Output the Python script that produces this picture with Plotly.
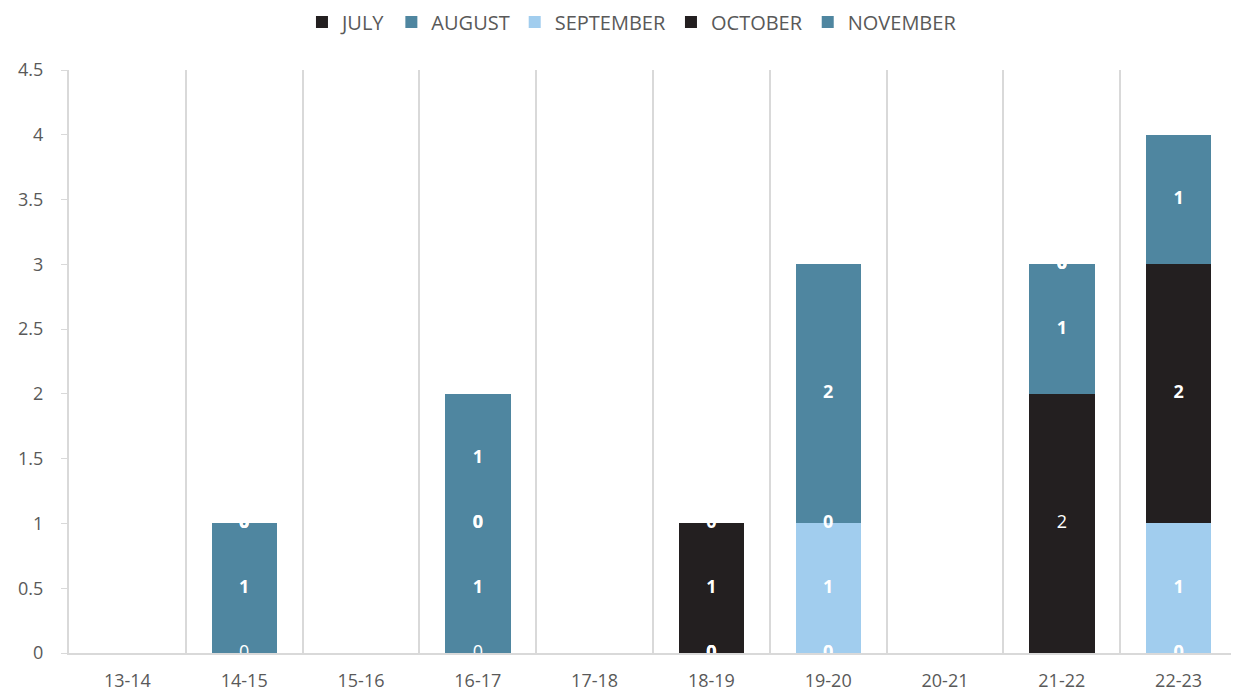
import numpy as np
import plotly.graph_objects as go

categories = ["13-14", "14-15", "15-16", "16-17", "17-18", "18-19", "19-20", "20-21", "21-22", "22-23"]
july      = [0, 0, 0, 0, 0, 0, 0, 0, 2, 0]
august    = [0, 1, 0, 1, 0, 0, 0, 0, 1, 0]
september = [0, 0, 0, 0, 0, 0, 1, 0, 0, 1]
october   = [0, 0, 0, 0, 0, 1, 0, 0, 0, 2]
november  = [0, 0, 0, 1, 0, 0, 2, 0, 0, 1]

series = [
    ("JULY", july, "#231F20", False),
    ("AUGUST", august, "#4F86A0", True),
    ("SEPTEMBER", september, "#A1CDEE", True),
    ("OCTOBER", october, "#231F20", True),
    ("NOVEMBER", november, "#4F86A0", True),
]

fig = go.Figure()
base = np.zeros(len(categories))
label_traces = []
for name, vals, color, bold in series:
    v = np.array(vals, dtype=float)
    fig.add_trace(go.Bar(
        x=categories, y=v, name=name,
        marker=dict(color=color, line=dict(width=0)),
        hoverinfo="skip",
    ))
    mid = base + v / 2
    txt = [f"<b>{int(x)}</b>" if bold else f"{int(x)}" for x in v]
    label_traces.append(go.Scatter(
        x=categories, y=mid, mode="text", text=txt,
        textfont=dict(color="white", size=18, family="Open Sans"),
        showlegend=False, hoverinfo="skip",
    ))
    base = base + v

for t in label_traces:
    fig.add_trace(t)

fig.update_layout(
    barmode="stack",
    bargap=0.44,
    width=1239, height=694,
    paper_bgcolor="white", plot_bgcolor="white",
    margin=dict(l=58, r=10, t=62, b=49),
    font=dict(family="Open Sans", color="#595959", size=17),
    legend=dict(orientation="h", x=0.482, xanchor="center", y=0.98, yref="container",
                yanchor="middle", font=dict(size=20, color="#595959"),
                itemwidth=30, traceorder="normal"),
    showlegend=True,
)
fig.update_xaxes(
    type="category", tickson="boundaries",
    showgrid=True, gridcolor="#D9D9D9", gridwidth=2,
    showline=True, linecolor="#D9D9D9", linewidth=2,
    ticks="", tickfont=dict(size=18, color="#595959"),
    ticklabelstandoff=10,
)
fig.update_yaxes(
    range=[0, 4.5], dtick=0.5, showgrid=False,
    showline=True, linecolor="#D9D9D9", linewidth=2,
    ticks="outside", ticklen=6, tickcolor="#D9D9D9",
    tickfont=dict(size=18, color="#595959"), zeroline=False,
    ticklabelstandoff=14,
)

fig.write_html("out.html")
